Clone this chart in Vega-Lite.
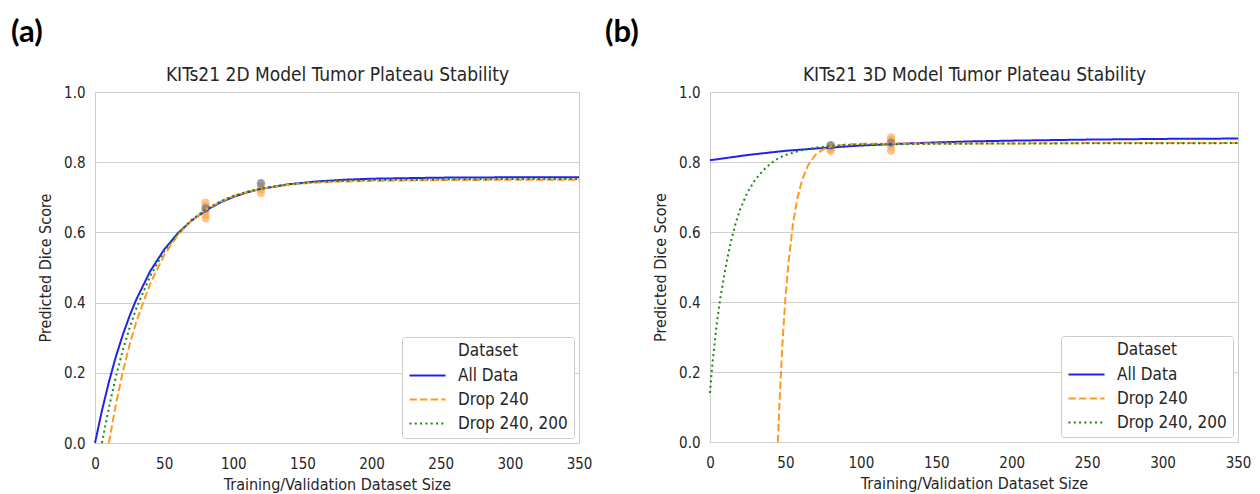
{
  "$schema": "https://vega.github.io/schema/vega-lite/v6.json",
  "padding": {"left": 10, "top": 16, "right": 5, "bottom": 0},
  "spacing": 11,
  "datasets": {
    "lines": [
      {"panel": "a", "series": "All Data", "x": 0, "y": 0},
      {"panel": "a", "series": "All Data", "x": 5, "y": 0.092},
      {"panel": "a", "series": "All Data", "x": 10, "y": 0.173},
      {"panel": "a", "series": "All Data", "x": 15, "y": 0.245},
      {"panel": "a", "series": "All Data", "x": 20, "y": 0.307},
      {"panel": "a", "series": "All Data", "x": 25, "y": 0.362},
      {"panel": "a", "series": "All Data", "x": 30, "y": 0.41},
      {"panel": "a", "series": "All Data", "x": 40, "y": 0.49},
      {"panel": "a", "series": "All Data", "x": 50, "y": 0.551},
      {"panel": "a", "series": "All Data", "x": 60, "y": 0.598},
      {"panel": "a", "series": "All Data", "x": 70, "y": 0.634},
      {"panel": "a", "series": "All Data", "x": 80, "y": 0.662},
      {"panel": "a", "series": "All Data", "x": 90, "y": 0.684},
      {"panel": "a", "series": "All Data", "x": 100, "y": 0.701},
      {"panel": "a", "series": "All Data", "x": 110, "y": 0.714},
      {"panel": "a", "series": "All Data", "x": 120, "y": 0.724},
      {"panel": "a", "series": "All Data", "x": 140, "y": 0.737},
      {"panel": "a", "series": "All Data", "x": 160, "y": 0.745},
      {"panel": "a", "series": "All Data", "x": 180, "y": 0.75},
      {"panel": "a", "series": "All Data", "x": 200, "y": 0.753},
      {"panel": "a", "series": "All Data", "x": 250, "y": 0.756},
      {"panel": "a", "series": "All Data", "x": 300, "y": 0.757},
      {"panel": "a", "series": "All Data", "x": 350, "y": 0.757},
      {"panel": "a", "series": "Drop 240", "x": 10, "y": 0},
      {"panel": "a", "series": "Drop 240", "x": 15, "y": 0.108},
      {"panel": "a", "series": "Drop 240", "x": 20, "y": 0.201},
      {"panel": "a", "series": "Drop 240", "x": 25, "y": 0.28},
      {"panel": "a", "series": "Drop 240", "x": 30, "y": 0.347},
      {"panel": "a", "series": "Drop 240", "x": 40, "y": 0.455},
      {"panel": "a", "series": "Drop 240", "x": 50, "y": 0.535},
      {"panel": "a", "series": "Drop 240", "x": 60, "y": 0.593},
      {"panel": "a", "series": "Drop 240", "x": 70, "y": 0.634},
      {"panel": "a", "series": "Drop 240", "x": 80, "y": 0.664},
      {"panel": "a", "series": "Drop 240", "x": 90, "y": 0.686},
      {"panel": "a", "series": "Drop 240", "x": 100, "y": 0.703},
      {"panel": "a", "series": "Drop 240", "x": 110, "y": 0.715},
      {"panel": "a", "series": "Drop 240", "x": 120, "y": 0.724},
      {"panel": "a", "series": "Drop 240", "x": 140, "y": 0.736},
      {"panel": "a", "series": "Drop 240", "x": 160, "y": 0.742},
      {"panel": "a", "series": "Drop 240", "x": 180, "y": 0.745},
      {"panel": "a", "series": "Drop 240", "x": 200, "y": 0.747},
      {"panel": "a", "series": "Drop 240", "x": 250, "y": 0.749},
      {"panel": "a", "series": "Drop 240", "x": 300, "y": 0.75},
      {"panel": "a", "series": "Drop 240", "x": 350, "y": 0.75},
      {"panel": "a", "series": "Drop 240, 200", "x": 5, "y": 0},
      {"panel": "a", "series": "Drop 240, 200", "x": 10, "y": 0.1},
      {"panel": "a", "series": "Drop 240, 200", "x": 15, "y": 0.187},
      {"panel": "a", "series": "Drop 240, 200", "x": 20, "y": 0.263},
      {"panel": "a", "series": "Drop 240, 200", "x": 25, "y": 0.328},
      {"panel": "a", "series": "Drop 240, 200", "x": 30, "y": 0.385},
      {"panel": "a", "series": "Drop 240, 200", "x": 40, "y": 0.476},
      {"panel": "a", "series": "Drop 240, 200", "x": 50, "y": 0.546},
      {"panel": "a", "series": "Drop 240, 200", "x": 60, "y": 0.597},
      {"panel": "a", "series": "Drop 240, 200", "x": 70, "y": 0.636},
      {"panel": "a", "series": "Drop 240, 200", "x": 80, "y": 0.665},
      {"panel": "a", "series": "Drop 240, 200", "x": 90, "y": 0.687},
      {"panel": "a", "series": "Drop 240, 200", "x": 100, "y": 0.704},
      {"panel": "a", "series": "Drop 240, 200", "x": 110, "y": 0.716},
      {"panel": "a", "series": "Drop 240, 200", "x": 120, "y": 0.725},
      {"panel": "a", "series": "Drop 240, 200", "x": 140, "y": 0.737},
      {"panel": "a", "series": "Drop 240, 200", "x": 160, "y": 0.744},
      {"panel": "a", "series": "Drop 240, 200", "x": 180, "y": 0.747},
      {"panel": "a", "series": "Drop 240, 200", "x": 200, "y": 0.749},
      {"panel": "a", "series": "Drop 240, 200", "x": 250, "y": 0.751},
      {"panel": "a", "series": "Drop 240, 200", "x": 300, "y": 0.752},
      {"panel": "a", "series": "Drop 240, 200", "x": 350, "y": 0.752},

      {"panel": "b", "series": "All Data", "x": 0, "y": 0.805},
      {"panel": "b", "series": "All Data", "x": 10, "y": 0.811},
      {"panel": "b", "series": "All Data", "x": 25, "y": 0.82},
      {"panel": "b", "series": "All Data", "x": 50, "y": 0.832},
      {"panel": "b", "series": "All Data", "x": 75, "y": 0.84},
      {"panel": "b", "series": "All Data", "x": 100, "y": 0.847},
      {"panel": "b", "series": "All Data", "x": 125, "y": 0.852},
      {"panel": "b", "series": "All Data", "x": 150, "y": 0.856},
      {"panel": "b", "series": "All Data", "x": 175, "y": 0.859},
      {"panel": "b", "series": "All Data", "x": 200, "y": 0.861},
      {"panel": "b", "series": "All Data", "x": 250, "y": 0.864},
      {"panel": "b", "series": "All Data", "x": 300, "y": 0.866},
      {"panel": "b", "series": "All Data", "x": 350, "y": 0.867},
      {"panel": "b", "series": "Drop 240", "x": 45, "y": 0},
      {"panel": "b", "series": "Drop 240", "x": 46, "y": 0.105},
      {"panel": "b", "series": "Drop 240", "x": 47, "y": 0.196},
      {"panel": "b", "series": "Drop 240", "x": 48, "y": 0.277},
      {"panel": "b", "series": "Drop 240", "x": 49, "y": 0.348},
      {"panel": "b", "series": "Drop 240", "x": 50, "y": 0.41},
      {"panel": "b", "series": "Drop 240", "x": 52, "y": 0.512},
      {"panel": "b", "series": "Drop 240", "x": 55, "y": 0.623},
      {"panel": "b", "series": "Drop 240", "x": 58, "y": 0.698},
      {"panel": "b", "series": "Drop 240", "x": 61, "y": 0.748},
      {"panel": "b", "series": "Drop 240", "x": 65, "y": 0.791},
      {"panel": "b", "series": "Drop 240", "x": 70, "y": 0.821},
      {"panel": "b", "series": "Drop 240", "x": 75, "y": 0.836},
      {"panel": "b", "series": "Drop 240", "x": 80, "y": 0.844},
      {"panel": "b", "series": "Drop 240", "x": 90, "y": 0.85},
      {"panel": "b", "series": "Drop 240", "x": 100, "y": 0.852},
      {"panel": "b", "series": "Drop 240", "x": 150, "y": 0.853},
      {"panel": "b", "series": "Drop 240", "x": 200, "y": 0.853},
      {"panel": "b", "series": "Drop 240", "x": 250, "y": 0.854},
      {"panel": "b", "series": "Drop 240", "x": 350, "y": 0.854},
      {"panel": "b", "series": "Drop 240, 200", "x": 0, "y": 0.14},
      {"panel": "b", "series": "Drop 240, 200", "x": 1, "y": 0.195},
      {"panel": "b", "series": "Drop 240, 200", "x": 2, "y": 0.24},
      {"panel": "b", "series": "Drop 240, 200", "x": 3, "y": 0.28},
      {"panel": "b", "series": "Drop 240, 200", "x": 4, "y": 0.32},
      {"panel": "b", "series": "Drop 240, 200", "x": 5, "y": 0.355},
      {"panel": "b", "series": "Drop 240, 200", "x": 6, "y": 0.385},
      {"panel": "b", "series": "Drop 240, 200", "x": 7, "y": 0.415},
      {"panel": "b", "series": "Drop 240, 200", "x": 8, "y": 0.44},
      {"panel": "b", "series": "Drop 240, 200", "x": 10, "y": 0.49},
      {"panel": "b", "series": "Drop 240, 200", "x": 12, "y": 0.535},
      {"panel": "b", "series": "Drop 240, 200", "x": 14, "y": 0.575},
      {"panel": "b", "series": "Drop 240, 200", "x": 17, "y": 0.625},
      {"panel": "b", "series": "Drop 240, 200", "x": 20, "y": 0.665},
      {"panel": "b", "series": "Drop 240, 200", "x": 25, "y": 0.715},
      {"panel": "b", "series": "Drop 240, 200", "x": 30, "y": 0.75},
      {"panel": "b", "series": "Drop 240, 200", "x": 35, "y": 0.775},
      {"panel": "b", "series": "Drop 240, 200", "x": 40, "y": 0.795},
      {"panel": "b", "series": "Drop 240, 200", "x": 45, "y": 0.81},
      {"panel": "b", "series": "Drop 240, 200", "x": 50, "y": 0.82},
      {"panel": "b", "series": "Drop 240, 200", "x": 60, "y": 0.833},
      {"panel": "b", "series": "Drop 240, 200", "x": 70, "y": 0.841},
      {"panel": "b", "series": "Drop 240, 200", "x": 80, "y": 0.846},
      {"panel": "b", "series": "Drop 240, 200", "x": 100, "y": 0.85},
      {"panel": "b", "series": "Drop 240, 200", "x": 150, "y": 0.852},
      {"panel": "b", "series": "Drop 240, 200", "x": 200, "y": 0.853},
      {"panel": "b", "series": "Drop 240, 200", "x": 350, "y": 0.854}
    ],
    "pts": [
      {"panel": "a", "kind": "orange", "x": 80, "y": 0.685},
      {"panel": "a", "kind": "orange", "x": 80, "y": 0.675},
      {"panel": "a", "kind": "orange", "x": 80, "y": 0.662},
      {"panel": "a", "kind": "orange", "x": 80, "y": 0.65},
      {"panel": "a", "kind": "orange", "x": 80, "y": 0.64},
      {"panel": "a", "kind": "grey", "x": 80, "y": 0.668},
      {"panel": "a", "kind": "grey", "x": 120, "y": 0.74},
      {"panel": "a", "kind": "orange", "x": 120, "y": 0.732},
      {"panel": "a", "kind": "orange", "x": 120, "y": 0.722},
      {"panel": "a", "kind": "orange", "x": 120, "y": 0.712},
      {"panel": "b", "kind": "grey", "x": 80, "y": 0.848},
      {"panel": "b", "kind": "orange", "x": 80, "y": 0.845},
      {"panel": "b", "kind": "orange", "x": 80, "y": 0.838},
      {"panel": "b", "kind": "orange", "x": 80, "y": 0.832},
      {"panel": "b", "kind": "orange", "x": 120, "y": 0.87},
      {"panel": "b", "kind": "orange", "x": 120, "y": 0.862},
      {"panel": "b", "kind": "grey", "x": 120, "y": 0.855},
      {"panel": "b", "kind": "orange", "x": 120, "y": 0.845},
      {"panel": "b", "kind": "orange", "x": 120, "y": 0.832}
    ]
  },
  "hconcat": [
    {
      "width": 484,
      "height": 351,
      "title": {"text": "(a)", "dx": -84},
      "resolve": {"axis": {"x": "independent"}},
      "layer": [
        {
          "data": {"name": "pts"},
          "transform": [{"filter": "datum.panel == 'a' && datum.kind == 'orange'"}],
          "mark": {"type": "circle", "size": 70, "color": "#ffa040", "opacity": 0.6},
          "encoding": {
            "x": {"field": "x", "type": "quantitative", "scale": {"domain": [0, 350]},
                  "axis": {"orient": "top", "title": "KITs21 2D Model Tumor Plateau Stability", "labels": false, "ticks": false, "domain": false, "grid": false, "titleFontSize": 19, "titlePadding": 8}},
            "y": {"field": "y", "type": "quantitative", "scale": {"domain": [0, 1]}, "axis": {"title": "Predicted Dice Score", "values": [0, 0.2, 0.4, 0.6, 0.8, 1.0], "format": ".1f"}}
          }
        },
        {
          "data": {"name": "pts"},
          "transform": [{"filter": "datum.panel == 'a' && datum.kind == 'grey'"}],
          "mark": {"type": "circle", "size": 70, "color": "#6f7888", "opacity": 0.7},
          "encoding": {
            "x": {"field": "x", "type": "quantitative", "axis": null},
            "y": {"field": "y", "type": "quantitative", "axis": {"title": "Predicted Dice Score", "values": [0, 0.2, 0.4, 0.6, 0.8, 1.0], "format": ".1f"}}
          }
        },
        {
          "data": {"name": "lines"},
          "transform": [{"filter": "datum.panel == 'a'"}],
          "mark": {"type": "line", "strokeWidth": 2},
          "encoding": {
            "x": {"field": "x", "type": "quantitative", "axis": {"title": "Training/Validation Dataset Size", "values": [0, 50, 100, 150, 200, 250, 300, 350]}},
            "y": {"field": "y", "type": "quantitative", "axis": {"title": "Predicted Dice Score", "values": [0, 0.2, 0.4, 0.6, 0.8, 1.0], "format": ".1f"}},
            "color": {"field": "series", "type": "nominal", "title": "Dataset",
                      "scale": {"domain": ["All Data", "Drop 240", "Drop 240, 200"], "range": ["#2222ee", "#ff9a1f", "#138a13"]}},
            "strokeDash": {"field": "series", "type": "nominal", "title": "Dataset",
                      "scale": {"domain": ["All Data", "Drop 240", "Drop 240, 200"], "range": [[1, 0], [7.4, 3.2], [2, 3.3]]}}
          }
        }
      ]
    },
    {
      "width": 528,
      "height": 350,
      "title": {"text": "(b)", "dx": -105},
      "resolve": {"axis": {"x": "independent"}},
      "layer": [
        {
          "data": {"name": "pts"},
          "transform": [{"filter": "datum.panel == 'b' && datum.kind == 'orange'"}],
          "mark": {"type": "circle", "size": 70, "color": "#ffa040", "opacity": 0.6},
          "encoding": {
            "x": {"field": "x", "type": "quantitative", "scale": {"domain": [0, 350]},
                  "axis": {"orient": "top", "title": "KITs21 3D Model Tumor Plateau Stability", "labels": false, "ticks": false, "domain": false, "grid": false, "titleFontSize": 19, "titlePadding": 8}},
            "y": {"field": "y", "type": "quantitative", "scale": {"domain": [0, 1]}, "axis": {"title": "Predicted Dice Score", "values": [0, 0.2, 0.4, 0.6, 0.8, 1.0], "format": ".1f"}}
          }
        },
        {
          "data": {"name": "pts"},
          "transform": [{"filter": "datum.panel == 'b' && datum.kind == 'grey'"}],
          "mark": {"type": "circle", "size": 70, "color": "#6f7888", "opacity": 0.7},
          "encoding": {
            "x": {"field": "x", "type": "quantitative", "axis": null},
            "y": {"field": "y", "type": "quantitative", "axis": {"title": "Predicted Dice Score", "values": [0, 0.2, 0.4, 0.6, 0.8, 1.0], "format": ".1f"}}
          }
        },
        {
          "data": {"name": "lines"},
          "transform": [{"filter": "datum.panel == 'b'"}],
          "mark": {"type": "line", "strokeWidth": 2},
          "encoding": {
            "x": {"field": "x", "type": "quantitative", "axis": {"title": "Training/Validation Dataset Size", "values": [0, 50, 100, 150, 200, 250, 300, 350]}},
            "y": {"field": "y", "type": "quantitative", "axis": {"title": "Predicted Dice Score", "values": [0, 0.2, 0.4, 0.6, 0.8, 1.0], "format": ".1f"}},
            "color": {"field": "series", "type": "nominal", "title": "Dataset",
                      "scale": {"domain": ["All Data", "Drop 240", "Drop 240, 200"], "range": ["#2222ee", "#ff9a1f", "#138a13"]}},
            "strokeDash": {"field": "series", "type": "nominal", "title": "Dataset",
                      "scale": {"domain": ["All Data", "Drop 240", "Drop 240, 200"], "range": [[1, 0], [7.4, 3.2], [2, 3.3]]}}
          }
        }
      ]
    }
  ],
  "resolve": {
    "scale": {"color": "independent", "strokeDash": "independent"},
    "legend": {"color": "independent", "strokeDash": "independent"}
  },
  "config": {
    "font": "DejaVu Sans Condensed, DejaVu Sans",
    "view": {"stroke": "#cccccc", "strokeWidth": 1},
    "axis": {
      "labelFontSize": 15, "labelColor": "#262626", "labelPadding": 10,
      "titleFontSize": 16, "titleFontWeight": "normal", "titleColor": "#262626",
      "ticks": false, "domain": false, "gridColor": "#d0d0d0", "gridWidth": 1
    },
    "axisX": {"grid": false, "titlePadding": 5, "labelFlush": false, "labelPadding": 13},
    "axisY": {"grid": true, "titlePadding": 10, "labelFlush": false},
    "legend": {
      "orient": "bottom-right", "offset": 5,
      "fillColor": "white", "strokeColor": "#cccccc", "cornerRadius": 3, "padding": 6,
      "titleFontSize": 17, "titleFontWeight": "normal", "titleColor": "#262626", "titleAnchor": "middle", "titlePadding": 7,
      "labelFontSize": 17, "labelColor": "#262626", "labelOffset": 11,
      "symbolType": "stroke", "symbolSize": 1300, "symbolStrokeWidth": 2, "clipHeight": 17, "rowPadding": 6
    },
    "title": {"anchor": "start", "frame": "group", "fontSize": 31, "fontWeight": "bold", "font": "Lato", "color": "#000000", "offset": 16}
  }
}
